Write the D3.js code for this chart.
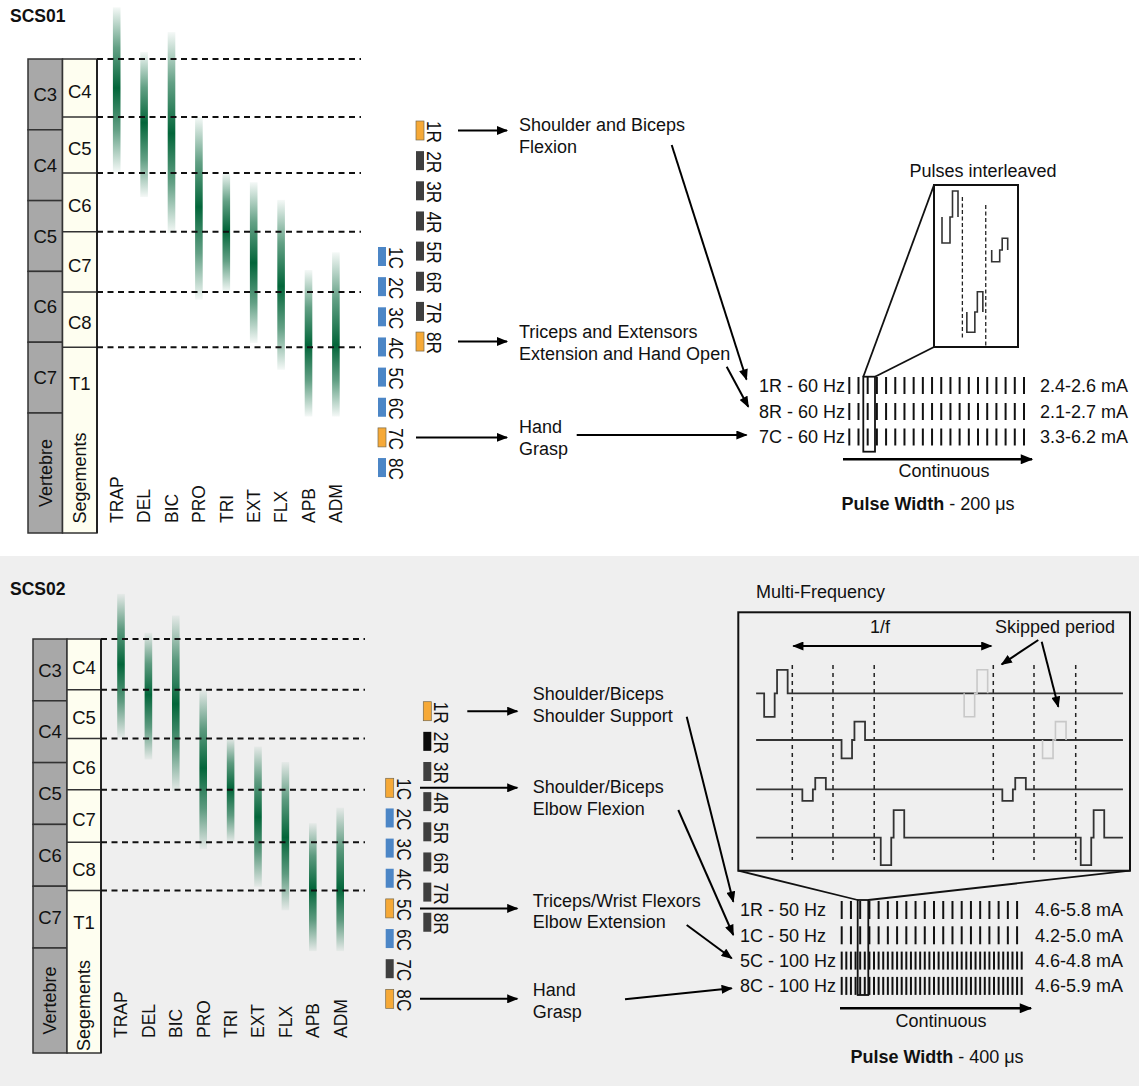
<!DOCTYPE html>
<html>
<head>
<meta charset="utf-8">
<script src="https://cdn.jsdelivr.net/npm/d3@7"></script>
<style>
  body { margin: 0; background: #fff; }
  svg text { font-family: "Liberation Sans", Arial, sans-serif; fill: #111; }
</style>
</head>
<body>
<div id="chart"></div>
<script>
// ---------- data ----------
var vertebrae = ["C3", "C4", "C5", "C6", "C7"];
var segments = ["C4", "C5", "C6", "C7", "C8", "T1"];
// segment edges, in vertebral level units (0 = top of C3, 5 = bottom of C7)
var segmentEdges = [0, 0.82, 1.61, 2.44, 3.29, 4.07];

var muscles = ["TRAP", "DEL", "BIC", "PRO", "TRI", "EXT", "FLX", "APB", "ADM"];
var muscleStart = [-0.73, -0.10, -0.38, 0.82, 1.60, 1.74, 1.99, 2.98, 2.73];
var musclePeak  = [0.41, 0.90, 1.05, 2.09, 2.42, 2.88, 3.21, 4.04, 4.04];
var muscleEnd   = [1.60, 1.95, 2.46, 3.40, 3.29, 4.01, 4.39, 5.05, 5.05];

var contacts = [1, 2, 3, 4, 5, 6, 7, 8];
var scs01R = ["on", "off", "off", "off", "off", "off", "off", "on"];
var scs01C = ["c", "c", "c", "c", "c", "c", "on", "c"];
var scs02R = ["on", "blk", "off", "off", "off", "off", "off", "off"];
var scs02C = ["on", "c", "c", "c", "on", "c", "off", "on"];

var scs01Tasks = [["Shoulder and Biceps", "Flexion"], ["Triceps and Extensors", "Extension and Hand Open"], ["Hand", "Grasp"]];
var scs01TaskContacts = ["1R", "8R", "7C"];
var scs01Rows = ["1R - 60 Hz", "8R - 60 Hz", "7C - 60 Hz"];
var scs01Freq = [60, 60, 60];
var scs01Amps = ["2.4-2.6 mA", "2.1-2.7 mA", "3.3-6.2 mA"];
var scs01Width = "200 μs";
// interleaved inset: time slot and relative amplitude of each row's pulse
var scs01Slot = [0, 2, 1];
var scs01InsetAmp = [1.0, 0.45, 0.78];
var scs01InsetMarks = [0.82, 1.76];

var scs02Tasks = [["Shoulder/Biceps", "Shoulder Support"], ["Shoulder/Biceps", "Elbow Flexion"], ["Triceps/Wrist Flexors", "Elbow Extension"], ["Hand", "Grasp"]];
var scs02TaskContacts = ["1R", "1C", "5C", "8C"];
var scs02Rows = ["1R - 50 Hz", "1C - 50 Hz", "5C - 100 Hz", "8C - 100 Hz"];
var scs02Freq = [50, 50, 100, 100];
var scs02Amps = ["4.6-5.8 mA", "4.2-5.0 mA", "4.6-4.8 mA", "4.6-5.9 mA"];
var scs02Width = "400 μs";
// multi-frequency inset: pulse onsets (ms), skipped flags, relative amplitude
var mfOnsets = [[-2.8, 17.1], [4.9, 24.9], [1.0, 20.9], [8.8, 28.7]];
var mfSkipped = [[false, true], [false, true], [false, false], [false, false]];
var mfAmp = [1.0, 0.78, 0.49, 1.17];
var mfMarks = [0, 4.05, 8.15, 20, 24.05, 28.2];

var contactColor = { on: "#f6a937", off: "#3f3f3f", blk: "#0b0b0b", c: "#4c86c6" };
var green = "#03663a";

// ---------- layout ----------
var W = 1139, H = 1086;

var panel1 = {
  title: "SCS01", titleY: 22, bgTop: 0, bgBottom: 556, bg: "#ffffff",
  colX: 28, colW: 34.5, top: 59, levelH: 70.8, bottom: 533, dashX2: 361,
  barX: 116.7, barStep: 27.4, labelY: 523,
  rX: 416, cX: 378, rTop: 121, cTop: 247, step: 30.15,
  arrowR: 458, arrowC: 416, arrowTip: 507, taskX: 519, taskY: [131, 338, 433],
  conn: [[671.7, 145, 746.5, 379.5], [726.7, 366.7, 748.3, 406.7], [576.7, 435, 746.5, 435]],
  trainX: [849.3, 1024], trainSpan: 316.7, rowY: [385.5, 411.5, 437], tickH: 17,
  rowLabelX: 845, rowAnchor: "end", ampX: 1128,
  hi: [863.3, 376.7, 875, 451.7],
  cont: [843, 1032, 459.3], contText: [944, 476.7], pw: [928, 510],
  tasks: scs01Tasks, taskContacts: scs01TaskContacts, rows: scs01Rows, freq: scs01Freq,
  amps: scs01Amps, width: scs01Width, rState: scs01R, cState: scs01C
};

var panel2 = {
  title: "SCS02", titleY: 595, bgTop: 556, bgBottom: H, bg: "#efefef",
  colX: 33, colW: 34, top: 639, levelH: 61.8, bottom: 1053, dashX2: 365,
  barX: 121, barStep: 27.4, labelY: 1038,
  rX: 423.3, cX: 385.7, rTop: 701.7, cTop: 778.3, step: 30.15,
  arrowR: 467.3, arrowC: 420, arrowTip: 517.3, taskX: 532.7, taskY: [700, 793.3, 906.7, 996],
  conn: [[686.7, 716.7, 733.3, 901.7], [678.3, 810, 733.3, 935], [686.7, 925, 731.7, 958.3], [625, 999.3, 731.7, 988.3]],
  trainX: [841.7, 1021.7], trainSpan: 390, rowY: [910, 935.3, 960.6, 985.9], tickH: 18,
  rowLabelX: 740, rowAnchor: "start", ampX: 1123,
  hi: [857.7, 900, 868.3, 995],
  cont: [840, 1031, 1008.3], contText: [941, 1026.7], pw: [937, 1063.3],
  tasks: scs02Tasks, taskContacts: scs02TaskContacts, rows: scs02Rows, freq: scs02Freq,
  amps: scs02Amps, width: scs02Width, rState: scs02R, cState: scs02C
};

var svg = d3.select("#chart").append("svg")
  .attr("width", W).attr("height", H);
var defs = svg.append("defs");

function addMarker(id, w, h) {
  defs.append("marker")
    .attr("id", id)
    .attr("viewBox", "0 0 10 8")
    .attr("refX", 9).attr("refY", 4)
    .attr("markerUnits", "userSpaceOnUse")
    .attr("markerWidth", w).attr("markerHeight", h)
    .attr("orient", "auto-start-reverse")
    .append("path").attr("d", "M0,0L10,4L0,8Z").attr("fill", "#000");
}
addMarker("ah", 12, 9);
addMarker("ahBig", 14, 10);

function arrow(g, x1, y1, x2, y2, w, m) {
  return g.append("line")
    .attr("x1", x1).attr("y1", y1).attr("x2", x2).attr("y2", y2)
    .attr("stroke", "#000").attr("stroke-width", w || 2)
    .attr("marker-end", "url(#" + (m || "ah") + ")");
}

// one biphasic pulse: down phase, short gap, up phase
function pulsePath(x0, y, down, up, w1, gap, w2) {
  return "M" + x0 + "," + y + "V" + (y + down) + "H" + (x0 + w1) + "V" + y +
    "H" + (x0 + w1 + gap) + "V" + (y - up) + "H" + (x0 + w1 + gap + w2) + "V" + y;
}

function drawPanel(p, idx) {
  var g = svg.append("g");

  g.append("rect").attr("x", 0).attr("y", p.bgTop).attr("width", W)
    .attr("height", p.bgBottom - p.bgTop).attr("fill", p.bg);

  g.append("text").attr("x", 10).attr("y", p.titleY)
    .style("font-weight", "bold").style("font-size", "17.5px").text(p.title);

  var lvl = d3.scaleLinear().domain([0, 1]).range([p.top, p.top + p.levelH]);
  var segX = p.colX + p.colW, segR = segX + p.colW;

  // vertebra column
  g.selectAll(".vert").data(vertebrae).enter().append("rect")
    .attr("x", p.colX).attr("width", p.colW)
    .attr("y", function(d, i) { return lvl(i); })
    .attr("height", p.levelH)
    .attr("fill", "#a8a8a8").attr("stroke", "#333").attr("stroke-width", 1.5);
  g.append("rect").attr("x", p.colX).attr("width", p.colW)
    .attr("y", lvl(5)).attr("height", p.bottom - lvl(5))
    .attr("fill", "#a8a8a8").attr("stroke", "#333").attr("stroke-width", 1.5);
  g.selectAll(".vl").data(vertebrae).enter().append("text")
    .attr("x", p.colX + p.colW / 2).attr("y", function(d, i) { return lvl(i + 0.5); })
    .attr("dy", "0.36em").attr("text-anchor", "middle")
    .style("font-size", "18.5px").text(function(d) { return d; });
  g.append("text")
    .attr("transform", "translate(" + (p.colX + p.colW / 2) + "," + ((lvl(5) + p.bottom) / 2) + ") rotate(-90)")
    .attr("dy", "0.36em").attr("text-anchor", "middle")
    .style("font-size", "18px").text("Vertebre");

  // segment column
  g.append("rect").attr("x", segX).attr("width", p.colW)
    .attr("y", p.top).attr("height", p.bottom - p.top)
    .attr("fill", "#fefef0").attr("stroke", "#333").attr("stroke-width", 1.5);
  g.selectAll(".sl").data(segmentEdges.slice(1)).enter().append("line")
    .attr("x1", segX).attr("x2", segR)
    .attr("y1", function(d) { return lvl(d); }).attr("y2", function(d) { return lvl(d); })
    .attr("stroke", "#333").attr("stroke-width", 1.5);
  g.selectAll(".st").data(segments).enter().append("text")
    .attr("x", segX + p.colW / 2)
    .attr("y", function(d, i) {
      var a = segmentEdges[i], b = i + 1 < segmentEdges.length ? segmentEdges[i + 1] : 5;
      return lvl((a + b) / 2) + 3;
    })
    .attr("dy", "0.36em").attr("text-anchor", "middle")
    .style("font-size", "18.5px").text(function(d) { return d; });
  g.append("text")
    .attr("transform", "translate(" + (segX + p.colW / 2) + "," + ((lvl(5) + p.bottom) / 2 + 5) + ") rotate(-90)")
    .attr("dy", "0.36em").attr("text-anchor", "middle")
    .style("font-size", "18px").text("Segements");
  g.append("line").attr("x1", segR).attr("x2", segR).attr("y1", p.top).attr("y2", p.bottom)
    .attr("stroke", "#222").attr("stroke-width", 2);

  // muscle recruitment bars
  var bx = function(i) { return p.barX + i * p.barStep; };
  muscles.forEach(function(m, i) {
    var id = "grad" + idx + "_" + i;
    var frac = (musclePeak[i] - muscleStart[i]) / (muscleEnd[i] - muscleStart[i]);
    var gr = defs.append("linearGradient").attr("id", id)
      .attr("x1", 0).attr("x2", 0).attr("y1", 0).attr("y2", 1);
    [[0, 0.04], [frac * 0.5, 0.62], [frac, 1], [frac + (1 - frac) * 0.5, 0.62], [1, 0.04]]
      .forEach(function(s) {
        gr.append("stop").attr("offset", s[0]).attr("stop-color", green).attr("stop-opacity", s[1]);
      });
  });
  g.selectAll(".bar").data(muscles).enter().append("rect")
    .attr("x", function(d, i) { return bx(i) - 3.8; }).attr("width", 7.6)
    .attr("y", function(d, i) { return lvl(muscleStart[i]); })
    .attr("height", function(d, i) { return lvl(muscleEnd[i]) - lvl(muscleStart[i]); })
    .attr("fill", function(d, i) { return "url(#grad" + idx + "_" + i + ")"; });
  g.selectAll(".ml").data(muscles).enter().append("text")
    .attr("transform", function(d, i) { return "translate(" + bx(i) + "," + p.labelY + ") rotate(-90)"; })
    .attr("dy", "0.36em").style("font-size", "17.5px").text(function(d) { return d; });

  // dashed segment lines
  g.selectAll(".dl").data(segmentEdges).enter().append("line")
    .attr("x1", segR).attr("x2", p.dashX2)
    .attr("y1", function(d) { return lvl(d); }).attr("y2", function(d) { return lvl(d); })
    .attr("stroke", "#111").attr("stroke-width", 2).attr("stroke-dasharray", "6,4.5");

  // electrode leads
  var yR = d3.scaleLinear().domain([1, 2]).range([p.rTop, p.rTop + p.step]);
  var yC = d3.scaleLinear().domain([1, 2]).range([p.cTop, p.cTop + p.step]);
  var leads = [{ key: "R", x: p.rX, y: yR, st: p.rState }, { key: "C", x: p.cX, y: yC, st: p.cState }];
  leads.forEach(function(L) {
    g.selectAll(".c" + L.key).data(contacts).enter().append("rect")
      .attr("x", L.x).attr("width", 8)
      .attr("y", function(d) { return L.y(d); }).attr("height", 19)
      .attr("fill", function(d, i) { return contactColor[L.st[i]]; })
      .attr("stroke", function(d, i) { return L.st[i] === "on" ? "#7a6a4a" : "none"; })
      .attr("stroke-width", 0.7);
    g.selectAll(".t" + L.key).data(contacts).enter().append("text")
      .attr("transform", function(d) { return "translate(" + (L.x + 11) + "," + L.y(d) + ") rotate(90)"; })
      .attr("textLength", 22).attr("lengthAdjust", "spacingAndGlyphs")
      .style("font-size", "20.5px").text(function(d) { return d + L.key; });
  });

  // task arrows and labels
  p.taskContacts.forEach(function(c, i) {
    var n = +c[0], isR = c[1] === "R";
    var y = (isR ? yR(n) : yC(n)) + 9.5;
    arrow(g, isR ? p.arrowR : p.arrowC, y, p.arrowTip, y, 2);
    var t = g.append("text").attr("x", p.taskX).attr("y", p.taskY[i]).style("font-size", "18px");
    p.tasks[i].forEach(function(line, k) {
      t.append("tspan").attr("x", p.taskX).attr("dy", k === 0 ? 0 : 21.7).text(line);
    });
  });
  p.conn.forEach(function(c) { arrow(g, c[0], c[1], c[2], c[3], 2); });

  // pulse trains
  var tx = d3.scaleLinear().domain([0, p.trainSpan]).range(p.trainX);
  p.rows.forEach(function(r, i) {
    var y = p.rowY[i];
    var n = Math.floor(p.trainSpan * p.freq[i] / 1000 + 1e-6) + 1;
    g.selectAll(".tk" + i).data(d3.range(n)).enter().append("line")
      .attr("x1", function(k) { return tx(k * 1000 / p.freq[i]); })
      .attr("x2", function(k) { return tx(k * 1000 / p.freq[i]); })
      .attr("y1", y - p.tickH / 2).attr("y2", y + p.tickH / 2)
      .attr("stroke", "#111").attr("stroke-width", 2);
    g.append("text").attr("x", p.rowLabelX).attr("y", y + 6.4)
      .attr("text-anchor", p.rowAnchor).style("font-size", "18px").text(r);
    g.append("text").attr("x", p.ampX).attr("y", y + 6.4)
      .attr("text-anchor", "end").style("font-size", "18px").text(p.amps[i]);
  });
  g.append("rect").attr("x", p.hi[0]).attr("y", p.hi[1])
    .attr("width", p.hi[2] - p.hi[0]).attr("height", p.hi[3] - p.hi[1])
    .attr("fill", "none").attr("stroke", "#111").attr("stroke-width", 1.8);

  arrow(g, p.cont[0], p.cont[2], p.cont[1], p.cont[2], 2.5, "ahBig");
  g.append("text").attr("x", p.contText[0]).attr("y", p.contText[1])
    .attr("text-anchor", "middle").style("font-size", "18px").text("Continuous");
  var pw = g.append("text").attr("x", p.pw[0]).attr("y", p.pw[1])
    .attr("text-anchor", "middle").style("font-size", "18px");
  pw.append("tspan").style("font-weight", "bold").text("Pulse Width");
  pw.append("tspan").text(" - " + p.width);
  return g;
}

var g1 = drawPanel(panel1, 1);
var g2 = drawPanel(panel2, 2);

// ---------- SCS01 inset: pulses interleaved ----------
var box1 = [934, 185, 1018, 347];
var slotX = d3.scaleLinear().domain([0, 1]).range([942, 966.85]);
var inset1Base = [217, 250, 312];
g1.append("text").attr("x", 983).attr("y", 177).attr("text-anchor", "middle")
  .style("font-size", "18px").text("Pulses interleaved");
g1.append("line").attr("x1", box1[0]).attr("y1", box1[1]).attr("x2", panel1.hi[0]).attr("y2", panel1.hi[1])
  .attr("stroke", "#111").attr("stroke-width", 1.8);
g1.append("line").attr("x1", box1[0]).attr("y1", box1[3]).attr("x2", panel1.hi[2]).attr("y2", panel1.hi[1])
  .attr("stroke", "#111").attr("stroke-width", 1.8);
g1.append("rect").attr("x", box1[0]).attr("y", box1[1])
  .attr("width", box1[2] - box1[0]).attr("height", box1[3] - box1[1])
  .attr("fill", "#fff").attr("stroke", "#111").attr("stroke-width", 2);
var markY = [[197, 338], [205, 347]];
g1.selectAll(".im").data(scs01InsetMarks).enter().append("line")
  .attr("x1", function(d) { return slotX(d); }).attr("x2", function(d) { return slotX(d); })
  .attr("y1", function(d, i) { return markY[i][0]; }).attr("y2", function(d, i) { return markY[i][1]; })
  .attr("stroke", "#222").attr("stroke-width", 1.3).attr("stroke-dasharray", "4,2.5");
g1.selectAll(".ip").data(scs01Slot).enter().append("path")
  .attr("d", function(s, i) {
    return pulsePath(slotX(s), inset1Base[i], 26 * scs01InsetAmp[i], 26 * scs01InsetAmp[i], 8, 2.5, 5.5);
  })
  .attr("fill", "none").attr("stroke", "#333").attr("stroke-width", 1.6);

// ---------- SCS02 inset: multi-frequency ----------
var box2 = [738.3, 612.3, 1130, 870.7];
var mfX = d3.scaleLinear().domain([0, 20]).range([792.3, 993.3]);
var mfBase = [693.3, 740, 789.3, 837.7];
var ampPx = 23.5, w1 = 10.5, gap = 2.4, w2 = 10.6;
g2.append("text").attr("x", 756).attr("y", 598.3).style("font-size", "18px").text("Multi-Frequency");
g2.append("line").attr("x1", box2[0]).attr("y1", box2[3]).attr("x2", panel2.hi[0]).attr("y2", panel2.hi[1])
  .attr("stroke", "#111").attr("stroke-width", 1.8);
g2.append("line").attr("x1", box2[2]).attr("y1", box2[3]).attr("x2", panel2.hi[2]).attr("y2", panel2.hi[1])
  .attr("stroke", "#111").attr("stroke-width", 1.8);
g2.append("rect").attr("x", box2[0]).attr("y", box2[1])
  .attr("width", box2[2] - box2[0]).attr("height", box2[3] - box2[1])
  .attr("fill", "#efefef").attr("stroke", "#111").attr("stroke-width", 2);
g2.selectAll(".mm").data(mfMarks).enter().append("line")
  .attr("x1", function(d) { return mfX(d); }).attr("x2", function(d) { return mfX(d); })
  .attr("y1", 665).attr("y2", 860)
  .attr("stroke", "#222").attr("stroke-width", 1.5).attr("stroke-dasharray", "4,4");
mfOnsets.forEach(function(ons, r) {
  var y = mfBase[r], a = ampPx * mfAmp[r];
  var d = "M" + mfX(-3.6) + "," + y;
  ons.forEach(function(t, k) {
    if (!mfSkipped[r][k]) {
      d += "H" + mfX(t) + pulsePath(mfX(t), y, a, a, w1, gap, w2).replace(/^M[^VH]+/, "");
    }
  });
  d += "H" + mfX(32.9);
  g2.append("path").attr("d", d).attr("fill", "none").attr("stroke", "#333").attr("stroke-width", 1.8);
  ons.forEach(function(t, k) {
    if (mfSkipped[r][k]) {
      g2.append("path").attr("d", pulsePath(mfX(t), y, a, a, w1, gap, w2))
        .attr("fill", "none").attr("stroke", "#c8c8c8").attr("stroke-width", 1.6);
    }
  });
});
g2.append("line").attr("x1", mfX(0.1)).attr("x2", mfX(19.8)).attr("y1", 646).attr("y2", 646)
  .attr("stroke", "#000").attr("stroke-width", 2)
  .attr("marker-start", "url(#ah)").attr("marker-end", "url(#ah)");
g2.append("text").attr("x", 880).attr("y", 633.3).attr("text-anchor", "middle")
  .style("font-size", "18px").text("1/f");
g2.append("text").attr("x", 995).attr("y", 633.3).style("font-size", "18px").text("Skipped period");
arrow(g2, 1038.3, 640, 1001.7, 664.3, 2);
arrow(g2, 1041.7, 641.7, 1058.3, 706.7, 2);
</script>
</body>
</html>
